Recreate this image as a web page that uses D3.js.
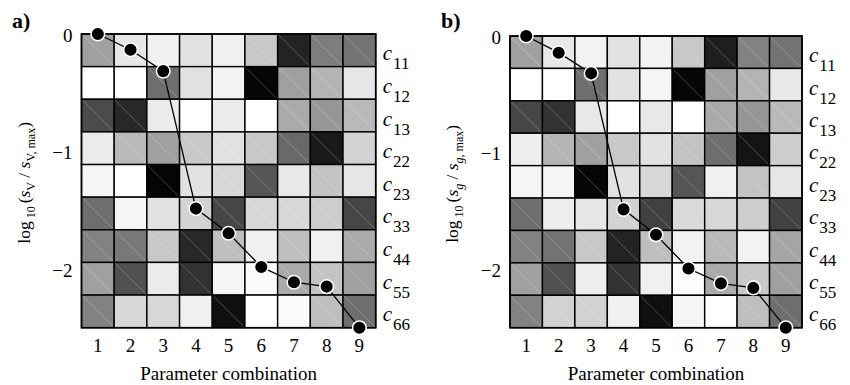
<!DOCTYPE html>
<html>
<head>
<meta charset="utf-8">
<script src="https://cdn.jsdelivr.net/npm/d3@7/dist/d3.min.js"></script>
<style>
  html, body { margin: 0; padding: 0; background: #fff; }
  svg { display: block; font-family: "Liberation Serif", "Times New Roman", serif; }
</style>
</head>
<body>
<svg id="chart" width="850" height="385"></svg>
<script>
// Parameter combinations (columns) and stiffness coefficients (rows)
const combos = [1, 2, 3, 4, 5, 6, 7, 8, 9];
const coeffs = ["11", "12", "13", "22", "23", "33", "44", "55", "66"];
const yTicks = [0, -1, -2];

// log10 of normalised sensitivity, one value per combination
const sensV = [0, -0.134, -0.316, -1.486, -1.696, -1.983, -2.113, -2.150, -2.50];
const sensG = [0, -0.143, -0.320, -1.486, -1.704, -1.993, -2.120, -2.159, -2.50];

// Grey level (0 black .. 255 white) of each coefficient/combination cell
const shadesV = [
  [160, 230, 240, 225, 240, 200,  35, 125, 115],
  [255, 255, 110, 225, 242,   5, 160, 180, 230],
  [ 75,  40, 235, 255, 235, 255, 170, 150, 185],
  [235, 185, 160, 200, 225, 200, 105,  25, 210],
  [245, 255,   5, 225, 215,  85, 232, 195, 230],
  [110, 245, 225, 210,  70, 215, 215, 205,  70],
  [130, 120, 200,  40, 190, 240, 190, 240, 170],
  [160,  80, 235,  50, 245, 250, 170, 195, 160],
  [130, 215, 215, 240,  15, 255, 250, 190, 110]
];
const shadesG = [
  [160, 232, 242, 225, 242, 200,  30, 130, 115],
  [255, 255, 110, 225, 245,   5, 160, 180, 232],
  [ 70,  50, 232, 255, 232, 255, 170, 150, 185],
  [238, 180, 160, 200, 225, 195, 110,  20, 205],
  [245, 245,   5, 225, 215,  85, 240, 195, 230],
  [110, 238, 230, 210,  65, 218, 215, 205,  65],
  [130, 115, 200,  35, 190, 242, 185, 242, 165],
  [160,  80, 238,  50, 240, 252, 170, 200, 160],
  [130, 210, 210, 240,  15, 245, 255, 190, 110]
];

const svg = d3.select("#chart");

function panel(opts) {
  const { x0, x1, y0, y1, shades, sens, tag, sub, labelX, tagX } = opts;
  const g = svg.append("g");

  const xb = d3.scaleBand().domain(combos).range([x0, x1]);
  const yb = d3.scaleBand().domain(coeffs).range([y0, y1]);
  const y = d3.scaleLinear().domain([0, -2.5]).range([y0, y1]);

  // shaded cells
  const cells = [];
  coeffs.forEach((c, r) => combos.forEach((k, j) => cells.push({ c, k, v: shades[r][j] })));
  g.selectAll("rect.cell").data(cells).join("rect")
    .attr("class", "cell")
    .attr("x", d => xb(d.k)).attr("y", d => yb(d.c))
    .attr("width", xb.bandwidth()).attr("height", yb.bandwidth())
    .attr("fill", d => d3.rgb(d.v, d.v, d.v))
    .attr("stroke", "#000").attr("stroke-width", 1.4);

  // faint diagonal seam in each cell
  g.selectAll("line.seam").data(cells).join("line")
    .attr("class", "seam")
    .attr("x1", d => xb(d.k) + 1.5).attr("y1", d => yb(d.c) + 1.5)
    .attr("x2", d => xb(d.k) + xb.bandwidth() - 1.5).attr("y2", d => yb(d.c) + yb.bandwidth() - 1.5)
    .attr("stroke", "#fff").attr("stroke-opacity", 0.3).attr("stroke-width", 0.8);

  g.append("rect").attr("x", x0).attr("y", y0).attr("width", x1 - x0).attr("height", y1 - y0)
    .attr("fill", "none").attr("stroke", "#000").attr("stroke-width", 1.6);

  // left axis labels
  const ax = g.append("g").attr("transform", `translate(${x0 - 9},0)`)
    .call(d3.axisLeft(y).tickValues(yTicks).tickSize(0).tickPadding(0)
      .tickFormat(d => d === 0 ? "0" : "\u2212" + Math.abs(d)));
  ax.select(".domain").remove();
  ax.selectAll("text").attr("font-size", 19).attr("dy", "0.38em")
    .attr("font-family", "Liberation Serif").attr("fill", "#000");

  // bottom axis labels
  const bx = g.append("g").attr("transform", `translate(0,${y1})`)
    .call(d3.axisBottom(xb).tickSize(0));
  bx.select(".domain").remove();
  bx.selectAll("text").attr("font-size", 19).attr("y", 24).attr("dy", 0)
    .attr("font-family", "Liberation Serif").attr("fill", "#000");

  g.append("text").attr("x", (x0 + x1) / 2).attr("y", 380)
    .attr("text-anchor", "middle").attr("font-size", 19).text("Parameter combination");

  // row labels c_ij
  coeffs.forEach(c => {
    const t = g.append("text").attr("x", x1 + 7).attr("y", yb(c) + yb.bandwidth() / 2 + 10)
      .attr("font-size", 21);
    t.append("tspan").attr("font-style", "italic").text("c");
    t.append("tspan").attr("dx", 1).attr("dy", 9).attr("font-size", 17).text(c);
  });

  // y-axis title
  const yl = g.append("text")
    .attr("transform", `translate(${labelX},${(y0 + y1) / 2 + 2}) rotate(-90)`)
    .attr("text-anchor", "middle").attr("font-size", 17.5);
  const subStyle = sub === "g" ? "italic" : "normal";
  yl.append("tspan").text("log");
  yl.append("tspan").attr("dy", 5).attr("dx", 3).attr("font-size", 12).text("10");
  yl.append("tspan").attr("dy", -5).attr("dx", 3).text("(");
  yl.append("tspan").attr("font-style", "italic").text("s");
  yl.append("tspan").attr("dy", 5).attr("font-size", 12).attr("font-style", subStyle).text(sub);
  yl.append("tspan").attr("dy", -5).text(" / ");
  yl.append("tspan").attr("font-style", "italic").text("s");
  yl.append("tspan").attr("dy", 5).attr("font-size", 12).attr("font-style", subStyle).text(sub);
  yl.append("tspan").attr("font-size", 12).text(", max");
  yl.append("tspan").attr("dy", -5).text(")");

  // panel tag
  g.append("text").attr("x", tagX).attr("y", 28).attr("font-size", 22).attr("font-weight", "bold").text(tag);

  // sensitivity curve
  const pts = combos.map((k, i) => [xb(k) + xb.bandwidth() / 2, y(sens[i])]);
  g.append("path").attr("d", d3.line()(pts)).attr("fill", "none").attr("stroke", "#000").attr("stroke-width", 1.3);
  g.selectAll("circle").data(pts).join("circle")
    .attr("cx", d => d[0]).attr("cy", d => d[1]).attr("r", 6.8)
    .attr("fill", "#000").attr("stroke", "#fff").attr("stroke-width", 1.5);
}

panel({ x0: 81.5, x1: 375.7, y0: 34, y1: 327.7, shades: shadesV, sens: sensV, tag: "a)", sub: "V", labelX: 30, tagX: 12 });
panel({ x0: 510, x1: 802, y0: 36, y1: 327.7, shades: shadesG, sens: sensG, tag: "b)", sub: "g", labelX: 458, tagX: 441 });
</script>
</body>
</html>
